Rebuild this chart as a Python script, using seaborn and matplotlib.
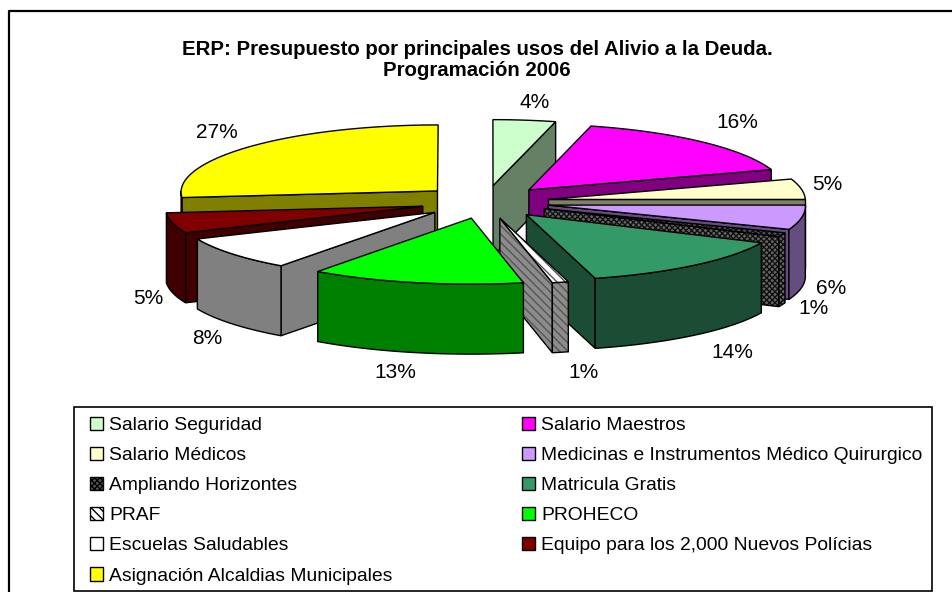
import numpy as np
import seaborn as sns
import matplotlib.pyplot as plt
from matplotlib.patches import Patch, Rectangle

sns.set_style("white")
plt.rcParams['font.family'] = ['Liberation Sans', 'DejaVu Sans']
plt.rcParams['hatch.linewidth'] = 1.0

names = ['Salario Seguridad', 'Salario Maestros', 'Salario Médicos',
         'Medicinas e Instrumentos Médico Quirurgico', 'Ampliando Horizontes',
         'Matricula Gratis', 'PRAF', 'PROHECO', 'Escuelas Saludables',
         'Equipo para los 2,000 Nuevos Polícias', 'Asignación Alcaldias Municipales']
values = [4, 16, 5, 6, 1, 13.8, 1, 13.2, 8.4, 5, 26.6]

top_colors = ['#CCFFCC', '#FF00FF', '#FFFFCC', '#CC99FF', '#555555', '#339966',
              '#FFFFFF', '#00FF00', '#FFFFFF', '#800000', '#FFFF00']
side_colors = ['#668066', '#800080', '#808066', '#664D80', '#666666', '#1A4D33',
               '#8C8C8C', '#008000', '#808080', '#400000', '#808000']
hatches = [None, None, None, None, 'xxxxxx', None, '\\\\\\\\', None, None, None, None]
hatch_colors = ['black', 'black', 'black', 'black', '#111111', 'black',
                '#555555', 'black', 'black', 'black', 'black']

# label centres in pixels, same order as values
label_x = [535, 737, 827, 831, 814, 732, 583, 395, 207, 148, 217]
label_y = [102, 122, 184, 288, 309, 352, 372, 372, 338, 299, 133]

# pie geometry in pixels
cx, cy = 485, 202
rx, ry = 257, 66
explode = 0.25
depth = 70


def project(u, v):
    return cx + rx * u * (1 - 0.015 * v), cy - ry * v


def face(ax, xs, ys, color, hatch, hatch_color, zorder):
    if hatch:
        ax.fill(xs, ys, facecolor=color, edgecolor=hatch_color, hatch=hatch, linewidth=0, zorder=zorder)
    else:
        ax.fill(xs, ys, color=color, linewidth=0, zorder=zorder)
    ax.fill(xs, ys, fill=False, edgecolor='black', linewidth=1.0, zorder=zorder)


fig = plt.figure(figsize=(9.52, 5.92), dpi=100)
ax = fig.add_axes([0, 0, 1, 1])
ax.set_xlim(0, 952)
ax.set_ylim(592, 0)
ax.axis('off')

# chart frame, runs off the right and bottom of the picture
ax.plot([9, 9, 952], [592, 11, 11], color='black', lw=1.6, zorder=0)

edges = np.cumsum([0] + values) / sum(values) * 2 * np.pi
slices = []
for i in range(len(values)):
    a0, a1 = edges[i], edges[i + 1]
    mid = (a0 + a1) / 2
    du, dv = explode * np.sin(mid), explode * np.cos(mid)
    slices.append((dv, i, a0, a1, du))

# back slices first
z = 1
for dv, i, a0, a1, du in sorted(slices, reverse=True):
    mid = (a0 + a1) / 2
    apex = project(du, dv)
    p0 = project(du + np.sin(a0), dv + np.cos(a0))
    p1 = project(du + np.sin(a1), dv + np.cos(a1))
    m = project(du + 0.6 * np.sin(mid), dv + 0.6 * np.cos(mid))

    # radial walls, only the ones looking at the viewer
    for p in (p0, p1):
        if abs(p[0] - apex[0]) < 1:
            continue
        line_y = apex[1] + (p[1] - apex[1]) * (m[0] - apex[0]) / (p[0] - apex[0])
        if m[1] < line_y:
            xs = [apex[0], p[0], p[0], apex[0]]
            ys = [apex[1], p[1], p[1] + depth, apex[1] + depth]
            face(ax, xs, ys, side_colors[i], hatches[i], hatch_colors[i], z)

    # outer wall, front half only
    lo, hi = max(a0, np.pi / 2), min(a1, 3 * np.pi / 2)
    if hi > lo:
        t = np.linspace(lo, hi, 40)
        ox, oy = project(du + np.sin(t), dv + np.cos(t))
        xs = np.r_[ox, ox[::-1]]
        ys = np.r_[oy, oy[::-1] + depth]
        face(ax, xs, ys, side_colors[i], hatches[i], hatch_colors[i], z)

    # top
    t = np.linspace(a0, a1, 60)
    ox, oy = project(du + np.sin(t), dv + np.cos(t))
    face(ax, np.r_[apex[0], ox], np.r_[apex[1], oy], top_colors[i], hatches[i], hatch_colors[i], z)
    z += 1

for x, y, v in zip(label_x, label_y, values):
    ax.text(x, y, f'{round(v)}%', ha='center', va='center', fontsize=15, color='black', zorder=50)

ax.text(477, 60, 'ERP: Presupuesto por principales usos del Alivio a la Deuda.\nProgramación 2006',
        ha='center', va='center', fontsize=14.7, fontweight='bold', color='black', linespacing=1.1, zorder=50)

# legend box is its own rectangle, the padding differs per side
ax.add_patch(Rectangle((74, 407), 858, 184, facecolor='white', edgecolor='black', linewidth=1.2, zorder=55))

# matplotlib fills legend columns, the chart reads along rows
order = list(range(0, len(names), 2)) + list(range(1, len(names), 2))
handles = []
for i in order:
    handles.append(Patch(facecolor=top_colors[i], edgecolor='black', hatch=hatches[i], label=names[i]))
leg = ax.legend(handles=handles, ncol=2, loc='upper left', bbox_to_anchor=(81 / 952, 1 - 408 / 592),
                frameon=False, fontsize=13.9, labelcolor='black', handlelength=0.7, handleheight=0.7,
                handletextpad=0.3, labelspacing=0.65, columnspacing=6.7, borderaxespad=0, borderpad=0.45)
leg.set_zorder(60)

plt.savefig('out.png', dpi=100)
